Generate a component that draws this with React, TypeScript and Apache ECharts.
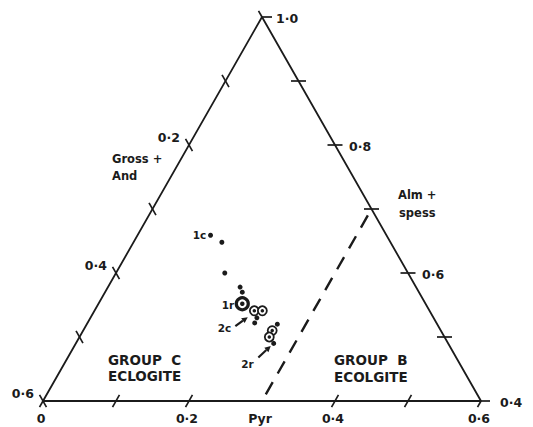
import { useEffect, useRef } from "react";
import * as echarts from "echarts";

const INK = "#1b1b1b";
const FONT = '"DejaVu Sans", sans-serif';

// Garnet analyses as mole fractions of pyrope (Pyr) and almandine + spessartine;
// grossular + andradite makes up the remainder.
const dotPyr = [0.1, 0.121, 0.149, 0.181, 0.188, 0.228, 0.229, 0.261, 0.271];
const dotAlm = [0.659, 0.648, 0.6, 0.578, 0.57, 0.53, 0.522, 0.52, 0.49];
const ringPyr = [0.219, 0.23, 0.259, 0.26];
const ringAlm = [0.541, 0.541, 0.51, 0.5];
const rimPyr = [0.197];
const rimAlm = [0.552];

// Dashed divide between Group C and Group B eclogites
const dividePyr = [0.3, 0.3];
const divideAlm = [0.69, 0.406];

// Arrows pointing at the zoned grains
const arrowTailPyr = [0.205, 0.261];
const arrowTailAlm = [0.517, 0.468];
const arrowHeadPyr = [0.215, 0.269];
const arrowHeadAlm = [0.531, 0.486];

// Ticks along the three edges
const grossTicks = [0, 0.1, 0.2, 0.3, 0.4, 0.5, 0.6];
const almTicks = [0.4, 0.5, 0.6, 0.7, 0.8, 0.9, 1.0];
const pyrTicks = [0, 0.1, 0.2, 0.4, 0.5, 0.6];

const grossLabelValues = [0.2, 0.4, 0.6];
const grossLabelTexts = ["0·2", "0·4", "0·6"];
const almLabelValues = [1.0, 0.8, 0.6, 0.4];
const almLabelTexts = ["1·0", "0·8", "0·6", "0·4"];
const pyrLabelValues = [0, 0.2, 0.3, 0.4, 0.6];
const pyrLabelTexts = ["0", "0·2", "Pyr", "0·4", "0·6"];

// Ternary (pyr, alm) -> plane; the triangle spans x 0..0.6 and y 0..0.6
const toXY = (pyr: number, alm: number): number[] => [pyr + 0.5 * (alm - 0.4), alm - 0.4];

type Lbl = { text: string; align: string; dx: number; dy: number };

function buildOption() {
  const ticks: number[][] = [];
  grossTicks.forEach((g) => {
    const [x, y] = toXY(0, 1 - g);
    ticks.push(g === 0 ? [x, y, 0, -7, 0] : [x, y, 0, -7, 7]);
  });
  almTicks.forEach((a) => {
    const [x, y] = toXY(1 - a, a);
    if (a === 1.0) ticks.push([x, y, 1, 0, 10]);
    else if (a === 0.4) ticks.push([x, y, 1, 0, 9]);
    else ticks.push([x, y, 1, -7.5, 7.5]);
  });
  pyrTicks.forEach((p) => {
    const [x, y] = toXY(p, 0.4);
    ticks.push(p === 0 || p === 0.6 ? [x, y, 2, -7, 0] : [x, y, 2, -7, 7]);
  });

  const labels: Lbl[] = [];
  const labelData: number[][] = [];
  grossLabelValues.forEach((g, i) => {
    labelData.push([...toXY(0, 1 - g), labels.length]);
    labels.push({ text: grossLabelTexts[i], align: "right", dx: -9, dy: -8 });
  });
  almLabelValues.forEach((a, i) => {
    labelData.push([...toXY(1 - a, a), labels.length]);
    labels.push({ text: almLabelTexts[i], align: "left", dx: a === 0.4 ? 19 : 14, dy: 1 });
  });
  pyrLabelValues.forEach((p, i) => {
    labelData.push([...toXY(p, 0.4), labels.length]);
    labels.push({ text: pyrLabelTexts[i], align: "center", dx: -2, dy: 17 });
  });

  const triangle = [toXY(0, 0.4), toXY(0.6, 0.4), toXY(0, 1.0), toXY(0, 0.4)];
  const divide = dividePyr.map((p, i) => toXY(p, divideAlm[i]));
  const dots = dotPyr.map((p, i) => toXY(p, dotAlm[i]));
  const rings = ringPyr.map((p, i) => toXY(p, ringAlm[i]));
  const rims = rimPyr.map((p, i) => toXY(p, rimAlm[i]));
  const arrows = arrowTailPyr.map((p, i) => [
    ...toXY(p, arrowTailAlm[i]),
    ...toXY(arrowHeadPyr[i], arrowHeadAlm[i]),
  ]);

  const text = (x: number, y: number, s: string, size: number, weight: string, align = "left") => ({
    type: "text",
    x,
    y,
    style: {
      text: s,
      fill: INK,
      fontSize: size,
      fontFamily: "DejaVu Sans",
      fontWeight: weight,
      align,
      textAlign: align,
      verticalAlign: "middle",
      textVerticalAlign: "middle",
    },
  });

  return {
    animation: false,
    backgroundColor: "#ffffff",
    grid: { left: 43, right: 52, top: 17, bottom: 26 },
    xAxis: { type: "value", min: 0, max: 0.6, show: false },
    yAxis: { type: "value", min: 0, max: 0.6, show: false },
    series: [
      {
        type: "line",
        data: triangle,
        symbol: "none",
        lineStyle: { color: INK, width: 1.8 },
        silent: true,
      },
      {
        type: "line",
        data: divide,
        symbol: "none",
        lineStyle: { color: INK, width: 2.4, type: [14, 10] },
        silent: true,
      },
      {
        type: "custom",
        data: ticks,
        encode: { x: 0, y: 1 },
        silent: true,
        renderItem: (_p: any, api: any) => {
          const bl = api.coord(toXY(0, 0.4));
          const br = api.coord(toXY(0.6, 0.4));
          const ap = api.coord(toXY(0, 1.0));
          const norm = (v: number[]) => {
            const l = Math.hypot(v[0], v[1]);
            return [v[0] / l, v[1] / l];
          };
          const dirs = [norm([br[0] - ap[0], br[1] - ap[1]]), [1, 0], norm([ap[0] - bl[0], ap[1] - bl[1]])];
          const c = api.coord([api.value(0), api.value(1)]);
          const d = dirs[api.value(2)];
          const a = api.value(3);
          const b = api.value(4);
          return {
            type: "line",
            shape: { x1: c[0] + d[0] * a, y1: c[1] + d[1] * a, x2: c[0] + d[0] * b, y2: c[1] + d[1] * b },
            style: { stroke: INK, lineWidth: 1.7 },
          };
        },
      },
      {
        type: "custom",
        data: labelData,
        encode: { x: 0, y: 1 },
        silent: true,
        renderItem: (_p: any, api: any) => {
          const c = api.coord([api.value(0), api.value(1)]);
          const l = labels[api.value(2)];
          return {
            type: "text",
            x: c[0] + l.dx,
            y: c[1] + l.dy,
            style: {
              text: l.text,
              fill: INK,
              fontSize: 12.5,
              fontWeight: "bold",
              fontFamily: "DejaVu Sans",
              align: l.align,
              textAlign: l.align,
              verticalAlign: "middle",
              textVerticalAlign: "middle",
            },
          };
        },
      },
      {
        type: "custom",
        data: arrows,
        encode: { x: [0, 2], y: [1, 3] },
        silent: true,
        renderItem: (_p: any, api: any) => {
          const t = api.coord([api.value(0), api.value(1)]);
          const h = api.coord([api.value(2), api.value(3)]);
          const dx = h[0] - t[0];
          const dy = h[1] - t[1];
          const len = Math.hypot(dx, dy);
          const ux = dx / len;
          const uy = dy / len;
          const bx = h[0] - ux * 6;
          const by = h[1] - uy * 6;
          return {
            type: "group",
            children: [
              {
                type: "line",
                shape: { x1: t[0], y1: t[1], x2: bx, y2: by },
                style: { stroke: INK, lineWidth: 2.2 },
              },
              {
                type: "polygon",
                shape: {
                  points: [
                    [h[0], h[1]],
                    [bx - uy * 3, by + ux * 3],
                    [bx + uy * 3, by - ux * 3],
                  ],
                },
                style: { fill: INK },
              },
            ],
          };
        },
      },
      {
        type: "scatter",
        data: dots,
        symbol: "circle",
        symbolSize: 5,
        itemStyle: { color: INK, opacity: 1 },
        silent: true,
      },
      {
        type: "scatter",
        data: rings,
        symbol: "circle",
        symbolSize: 9,
        itemStyle: { color: "#ffffff", borderColor: INK, borderWidth: 1.8, opacity: 1 },
        silent: true,
      },
      {
        type: "scatter",
        data: rings,
        symbol: "circle",
        symbolSize: 3.5,
        itemStyle: { color: INK, opacity: 1 },
        silent: true,
      },
      {
        type: "scatter",
        data: rims,
        symbol: "circle",
        symbolSize: 12,
        itemStyle: { color: "#ffffff", borderColor: INK, borderWidth: 3.2, opacity: 1 },
        silent: true,
      },
      {
        type: "scatter",
        data: rims,
        symbol: "circle",
        symbolSize: 4.5,
        itemStyle: { color: INK, opacity: 1 },
        silent: true,
      },
    ],
    graphic: [
      text(112, 159, "Gross +", 11.5, "bold"),
      text(112, 176, "And", 11.5, "bold"),
      text(398, 195, "Alm +", 11.5, "bold"),
      text(399, 213, "spess", 11.5, "bold"),
      text(108, 360, "GROUP  C", 13.5, "bold"),
      text(108, 376, "ECLOGITE", 13.5, "bold"),
      text(334, 360, "GROUP  B", 13.5, "bold"),
      text(334, 377, "ECOLGITE", 13.5, "bold"),
      text(199.5, 235, "1c", 10.5, "bold", "center"),
      text(228, 305, "1r", 10.5, "bold", "center"),
      text(224.5, 328, "2c", 10.5, "bold", "center"),
      text(247.5, 364, "2r", 10.5, "bold", "center"),
    ],
  };
}

export default function App() {
  const ref = useRef<HTMLDivElement>(null);
  useEffect(() => {
    if (!ref.current) return;
    const chart = echarts.init(ref.current, undefined, { renderer: "svg" });
    chart.setOption(buildOption() as any);
    return () => chart.dispose();
  }, []);
  return (
    <div
      ref={ref}
      style={{ position: "fixed", left: 0, top: 0, width: 533, height: 427, background: "#fff", fontFamily: FONT }}
    />
  );
}
